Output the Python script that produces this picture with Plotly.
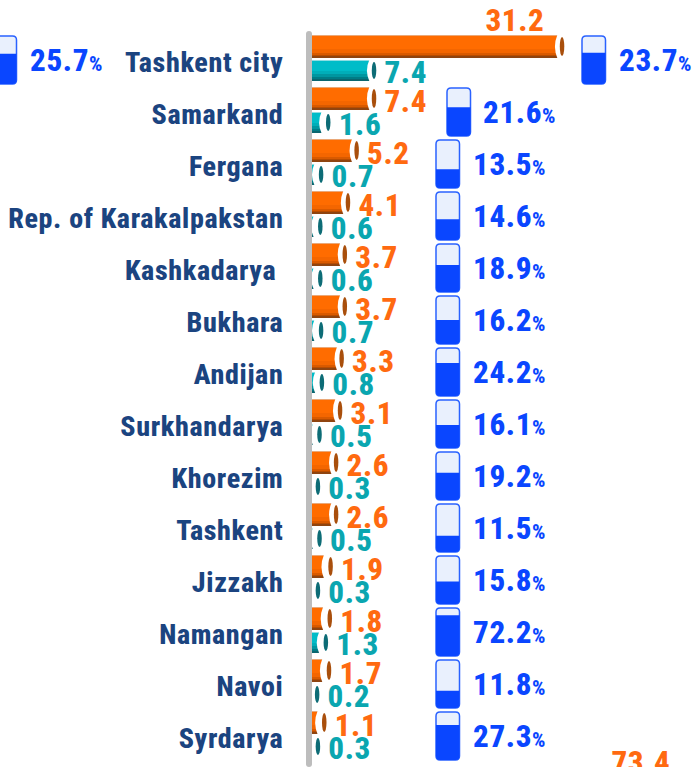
import plotly.graph_objects as go

regions = ["Tashkent city", "Samarkand", "Fergana", "Rep. of Karakalpakstan", "Kashkadarya\u00a0",
           "Bukhara", "Andijan", "Surkhandarya", "Khorezim", "Tashkent", "Jizzakh", "Namangan", "Navoi", "Syrdarya"]
orange_values = [31.2, 7.4, 5.2, 4.1, 3.7, 3.7, 3.3, 3.1, 2.6, 2.6, 1.9, 1.8, 1.7, 1.1]
teal_values = [7.4, 1.6, 0.7, 0.6, 0.6, 0.7, 0.8, 0.5, 0.3, 0.5, 0.3, 1.3, 0.2, 0.3]
share_values = [23.7, 21.6, 13.5, 14.6, 18.9, 16.2, 24.2, 16.1, 19.2, 11.5, 15.8, 72.2, 11.8, 27.3]
gauge_levels = [65, 60, 39, 43, 56, 50, 69, 48, 57, 34, 47, 85, 36, 73]
total_share = 25.7
total_level = 63
total_orange = 73.4

W, H = 694, 767
X0, SX = 312.0, 7.9
Y0, SY = 62.0, 52.0
FONT = "Roboto, sans-serif"
ORANGE_TXT, TEAL_TXT, BLUE, NAVY = "#ff6a10", "#0aa6b0", "#0a46ff", "#1b4480"
WEIGHT = 800

def dx(px):
    return px / SX
def xp(px):
    return (px - X0) / SX
def yp(px):
    return (px - Y0) / SY

rows = list(range(len(regions)))
fig = go.Figure()

orange_bands = [(-27, -26, "#eaa878"), (-26, -13, "#ff6c00"), (-13, -9, "#f46600"), (-9, -7, "#d95a00"),
                (-7, -5.5, "#b84c00"), (-5.5, -4, "#8f4410")]
teal_bands = [(-2, -1, "#8fdde2"), (-1, 9, "#00bcc8"), (9, 12, "#00aeb9"), (12, 15, "#0096a0"),
              (15, 17, "#007c86"), (17, 19, "#0a666f")]
for vals, bands in ((orange_values, orange_bands), (teal_values, teal_bands)):
    for a, b, c in bands:
        fig.add_trace(go.Bar(x=vals, y=rows, orientation="h", offset=a / SY, width=(b - a) / SY,
                             marker=dict(color=c, line=dict(width=0)), hoverinfo="skip", showlegend=False))

shapes = []
def ellipse(cx, cy, w, h, color):
    shapes.append(dict(type="circle", xref="x", yref="y", x0=cx - dx(w / 2), x1=cx + dx(w / 2),
                       y0=cy - h / 2 / SY, y1=cy + h / 2 / SY, fillcolor=color, line=dict(width=0), layer="above"))

def bar_end_cut(v, cy, h):
    yt, yb, ym = cy - (h / 2 + 0.5) / SY, cy + (h / 2 + 0.5) / SY, cy
    off = 3 if v < 2 else 1
    edge, ctrl, right = v - dx(off), v - dx(off + 5), v + dx(8)
    path = f"M{right},{yt} L{edge},{yt} Q{ctrl},{ym} {edge},{yb} L{right},{yb} Z"
    shapes.append(dict(type="path", path=path, xref="x", yref="y", fillcolor="#ffffff",
                       line=dict(width=0), layer="above"))

for i in rows:
    for vals, mid, h in ((orange_values, -15.5, 23), (teal_values, 8.5, 21)):
        bar_end_cut(vals[i], i + mid / SY, h)
for i in rows:
    for vals, mid, h, cap in ((orange_values, -15.5, 23, "#a94f0c"), (teal_values, 8.5, 21, "#0d6c76")):
        ellipse(vals[i] + 0.45, i + mid / SY, 4.5, h - 4, cap)

def rrect(x0, x1, y0, y1, r, square_top=False):
    rx, ry = r / SX, r / SY
    top = (f"M{x0},{y0} L{x1},{y0} " if square_top else
           f"M{x0 + rx},{y0} L{x1 - rx},{y0} Q{x1},{y0} {x1},{y0 + ry} ")
    head = top + (f"L{x1},{y1 - ry} Q{x1},{y1} {x1 - rx},{y1} L{x0 + rx},{y1} Q{x0},{y1} {x0},{y1 - ry} ")
    tail = "Z" if square_top else f"L{x0},{y0 + ry} Q{x0},{y0} {x0 + rx},{y0} Z"
    return head + tail

def gauge(left_px, row, level):
    x0, x1 = xp(left_px), xp(left_px + 23.5)
    y0, y1 = row - 26 / SY, row + 22 / SY
    shapes.append(dict(type="path", path=rrect(x0, x1, y0, y1, 4), xref="x", yref="y",
                       fillcolor="#e9f0fd", line=dict(color="#2a62ff", width=1.5), layer="above"))
    top = y1 - (y1 - y0) * level / 100
    shapes.append(dict(type="path", path=rrect(x0, x1, top, y1, 4, True), xref="x", yref="y",
                       fillcolor=BLUE, line=dict(width=0), layer="above"))

gauge_left = [582, 447] + [436] * 12
text_left = [619, 483] + [473] * 12
for i in rows:
    gauge(gauge_left[i], i, gauge_levels[i])
gauge(-7, 0, total_level)

px0, px1 = xp(306), xp(312)
shapes.append(dict(type="path", path=rrect(px0, px1, yp(31), yp(767), 3), xref="x", yref="y",
                   fillcolor="#bdbdbd", line=dict(width=0), layer="above"))

def pct(v):
    return f"{v}<span style='font-size:21px'>%</span>"

SHIFT = 1.5 / SY
fig.add_trace(go.Scatter(x=[xp(p) for p in text_left] + [xp(30)], y=[r + SHIFT for r in rows] + [SHIFT], mode="text",
                         text=[pct(v) for v in share_values] + [pct(total_share)], textposition="middle right",
                         textfont=dict(family=FONT, size=31, color=BLUE, weight=WEIGHT), cliponaxis=False,
                         hoverinfo="skip", showlegend=False))

ox = [v + dx(14) for v in orange_values[1:]]
oy = [i - 10 / SY for i in rows[1:]]
fig.add_trace(go.Scatter(x=ox, y=oy, mode="text", text=[f"{v}" for v in orange_values[1:]],
                         textposition="middle right",
                         textfont=dict(family=FONT, size=31, color=ORANGE_TXT, weight=WEIGHT),
                         cliponaxis=False, hoverinfo="skip", showlegend=False))
fig.add_trace(go.Scatter(x=[xp(515)], y=[yp(23)], mode="text",
                         text=[f"{orange_values[0]}"], textposition="middle center",
                         textfont=dict(family=FONT, size=31, color=ORANGE_TXT, weight=WEIGHT),
                         cliponaxis=False, hoverinfo="skip", showlegend=False))
fig.add_trace(go.Scatter(x=[xp(641)], y=[yp(750)], mode="text",
                         text=[f"{total_orange}"], textposition="bottom center",
                         textfont=dict(family=FONT, size=31, color=ORANGE_TXT, weight=WEIGHT),
                         cliponaxis=False, hoverinfo="skip", showlegend=False))
fig.add_trace(go.Scatter(x=[v + dx(14) for v in teal_values], y=[i + 13 / SY for i in rows], mode="text",
                         text=[f"{v}" for v in teal_values], textposition="middle right",
                         textfont=dict(family=FONT, size=31, color=TEAL_TXT, weight=WEIGHT),
                         cliponaxis=False, hoverinfo="skip", showlegend=False))

fig.update_layout(
    width=W, height=H, margin=dict(l=0, r=0, t=0, b=0), barmode="overlay",
    paper_bgcolor="white", plot_bgcolor="white", showlegend=False, shapes=shapes,
    xaxis=dict(range=[xp(0), xp(W)], visible=False, fixedrange=True),
    yaxis=dict(range=[yp(H), yp(0)], anchor="free", position=X0 / W, tickmode="array", tickvals=rows,
               ticktext=regions, ticks="outside", ticklen=23, tickcolor="rgba(0,0,0,0)", showline=False,
               showgrid=False, zeroline=False, automargin=False, fixedrange=True,
               tickfont=dict(family=FONT, size=28, color=NAVY, weight=WEIGHT)),
)
fig.write_html("out.html", config=dict(displayModeBar=False),
               post_script="document.body.style.margin='0';document.body.style.overflow='hidden';"
                           "document.querySelectorAll('svg text').forEach(function(t){t.style.fontStretch='75%';"
                           "t.style.letterSpacing='0.65px';});")
